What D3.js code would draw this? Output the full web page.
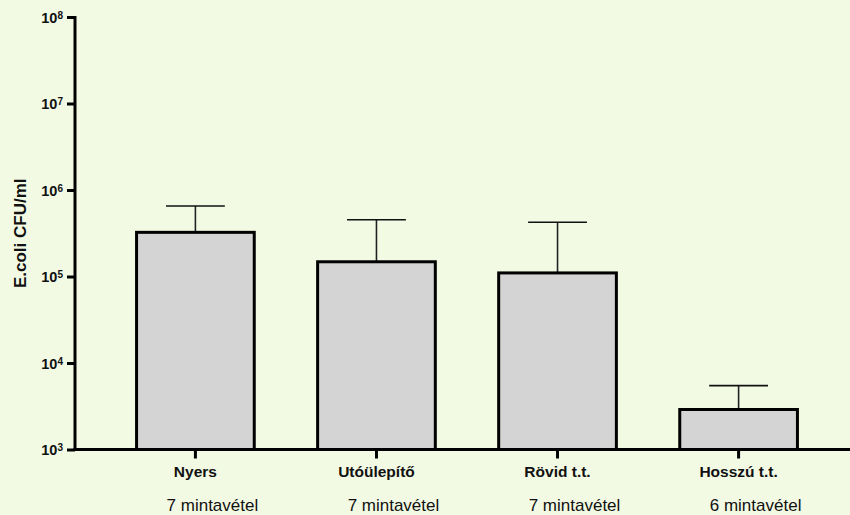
<!DOCTYPE html>
<html>
<head>
<meta charset="utf-8">
<script src="https://cdn.jsdelivr.net/npm/d3@7"></script>
<style>
  html, body { margin: 0; padding: 0; background: #F3FAE4; }
  svg { display: block; }
  text { font-family: Arial, "Liberation Sans", sans-serif; fill: #111; }
</style>
</head>
<body>
<svg id="chart" width="850" height="515"></svg>
<script>
const categories = ["Nyers", "Utóülepítő", "Rövid t.t.", "Hosszú t.t."];
const means = [324000, 148000, 110000, 2900];
const errorTops = [653000, 453000, 423000, 5470];
const sampleLabels = ["7 mintavétel", "7 mintavétel", "7 mintavétel", "6 mintavétel"];
const tickValues = [1e3, 1e4, 1e5, 1e6, 1e7, 1e8];
const tickExponents = ["3", "4", "5", "6", "7", "8"];
const yTitle = "E.coli CFU/ml";

const svg = d3.select("#chart");
const W = 850, H = 515;
svg.append("rect").attr("width", W).attr("height", H).attr("fill", "#F3FAE4");

const x0 = 75, yTop = 17, yBottom = 449.5;
const x = d3.scaleBand().domain(categories).range([x0, 859]).paddingInner(0.35).paddingOuter(0.34);
const y = d3.scaleLog().domain([1e3, 1e8]).range([yBottom, yTop]);

const data = categories.map((c, i) => ({ c, m: means[i], e: errorTops[i], s: sampleLabels[i] }));

// error bars (drawn before bars so the bar top covers the stem base)
const eb = svg.append("g");
eb.selectAll("line.stem").data(data).join("line")
  .attr("x1", d => x(d.c) + x.bandwidth() / 2).attr("x2", d => x(d.c) + x.bandwidth() / 2)
  .attr("y1", d => y(d.m)).attr("y2", d => y(d.e))
  .attr("stroke", "#222").attr("stroke-width", 1.6);
eb.selectAll("line.cap").data(data).join("line")
  .attr("x1", d => x(d.c) + x.bandwidth() / 4).attr("x2", d => x(d.c) + 3 * x.bandwidth() / 4)
  .attr("y1", d => y(d.e)).attr("y2", d => y(d.e))
  .attr("stroke", "#111").attr("stroke-width", 1.6);

// bars
svg.append("g").selectAll("rect").data(data).join("rect")
  .attr("x", d => x(d.c)).attr("width", x.bandwidth())
  .attr("y", d => y(d.m)).attr("height", d => yBottom - y(d.m))
  .attr("fill", "#D4D4D4").attr("stroke", "#000").attr("stroke-width", 3);

// y axis
const yAxis = d3.axisLeft(y).tickValues(tickValues).tickSize(8).tickFormat(() => "");
const gy = svg.append("g").attr("transform", `translate(${x0},0)`).call(yAxis);
gy.select(".domain").attr("stroke", "#000").attr("stroke-width", 3).attr("d", `M0,${yBottom}V${yTop - 1}`);
gy.selectAll(".tick line").attr("stroke", "#000").attr("stroke-width", 3);
gy.selectAll(".tick").each(function (d, i) {
  const t = d3.select(this).append("text")
    .attr("x", -12).attr("dy", "0.35em").attr("text-anchor", "end")
    .style("font-size", "14.5px").style("font-weight", "bold");
  t.append("tspan").text("10");
  t.append("tspan").attr("dy", "-0.4em").style("font-size", "10px").text(tickExponents[i]);
});

// x axis
const xAxis = d3.axisBottom(x).tickSize(9).tickFormat("");
const gx = svg.append("g").attr("transform", `translate(0,${yBottom})`).call(xAxis);
gx.select(".domain").attr("stroke", "#000").attr("stroke-width", 3).attr("d", `M${x0 - 1.5},0H${W + 10}`);
gx.selectAll(".tick line").attr("stroke", "#000").attr("stroke-width", 3);
gx.selectAll(".tick").append("text")
  .attr("y", 27).attr("text-anchor", "middle")
  .style("font-size", "15.5px").style("font-weight", "bold")
  .text(d => d);

// sample count labels
svg.append("g").selectAll("text").data(data).join("text")
  .attr("x", d => x(d.c) + x.bandwidth() / 2 + 17).attr("y", 511)
  .attr("text-anchor", "middle").style("font-size", "17px")
  .text(d => d.s);

// y title
svg.append("text")
  .attr("transform", `translate(26,${(yTop + yBottom) / 2}) rotate(-90)`)
  .attr("text-anchor", "middle").style("font-size", "17px").style("font-weight", "bold")
  .text(yTitle);
</script>
</body>
</html>
